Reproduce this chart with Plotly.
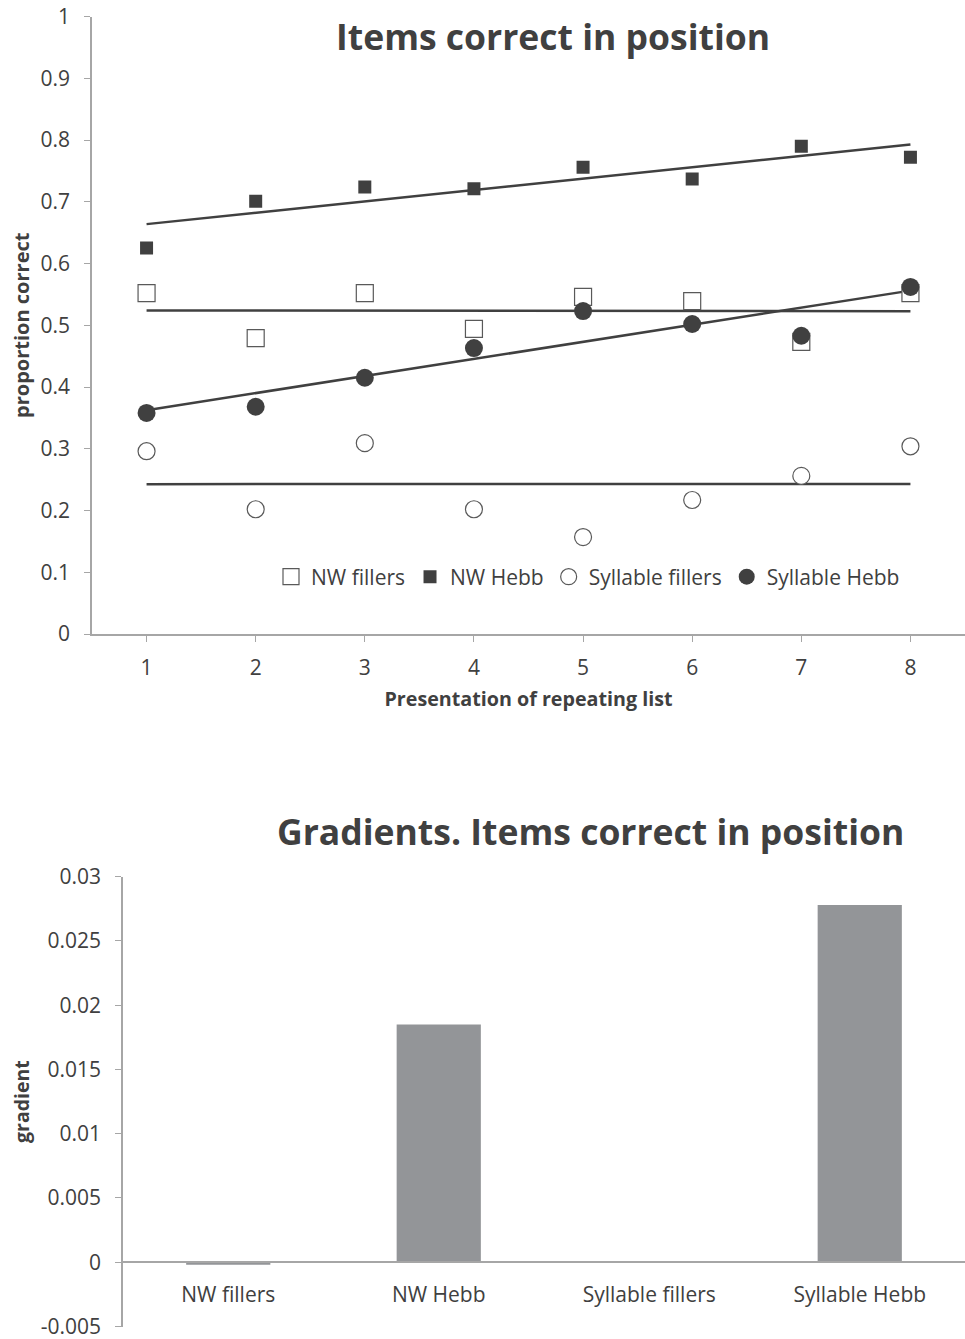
import numpy as np
import plotly.graph_objects as go

# ---------------- data ----------------
presentations = [1, 2, 3, 4, 5, 6, 7, 8]
nw_fillers = [0.552, 0.479, 0.552, 0.494, 0.546, 0.539, 0.473, 0.552]
nw_hebb = [0.625, 0.701, 0.724, 0.721, 0.756, 0.737, 0.790, 0.772]
syl_fillers = [0.296, 0.202, 0.309, 0.202, 0.157, 0.217, 0.256, 0.304]
syl_hebb = [0.358, 0.368, 0.415, 0.463, 0.523, 0.502, 0.483, 0.562]

gradient_categories = ["NW fillers", "NW Hebb", "Syllable fillers", "Syllable Hebb"]
gradient_values = [-0.0002, 0.0185, 0.0000, 0.0278]

top_yticks = [0, 0.1, 0.2, 0.3, 0.4, 0.5, 0.6, 0.7, 0.8, 0.9, 1]
top_yticklabels = ["0", "0.1", "0.2", "0.3", "0.4", "0.5", "0.6", "0.7", "0.8", "0.9", "1"]
bot_yticks = [-0.005, 0, 0.005, 0.01, 0.015, 0.02, 0.025, 0.03]
bot_yticklabels = ["-0.005", "0", "0.005", "0.01", "0.015", "0.02", "0.025", "0.03"]

# ---------------- style ----------------
W, H = 965, 1339
FONT = "Open Sans"
TXT = "#404040"
AX = "#a6a6a6"
DARK = "#404040"
BAR = "#939598"
TICK_SIZE = 21

top_dom_y = [1 - 634 / H, 1 - 16.5 / H]
top_dom_x = [92 / W, 1.0]
bot_dom_y = [1 - 1326.5 / H, 1 - 876.7 / H]
bot_dom_x = [123 / W, 1.0]
bot_range = [-0.005, 0.03]
zero_pos = bot_dom_y[0] + (0 - bot_range[0]) / (bot_range[1] - bot_range[0]) * (bot_dom_y[1] - bot_dom_y[0])

fig = go.Figure()

series = [
    ("NW fillers", nw_fillers, dict(symbol="square", size=17, color="white", line=dict(color="#595959", width=1.2))),
    ("NW Hebb", nw_hebb, dict(symbol="square", size=13, color=DARK, line=dict(color=DARK, width=0))),
    ("Syllable fillers", syl_fillers, dict(symbol="circle", size=17, color="white", line=dict(color="#595959", width=1.2))),
    ("Syllable Hebb", syl_hebb, dict(symbol="circle", size=18, color=DARK, line=dict(color=DARK, width=0))),
]

x_arr = np.array(presentations, dtype=float)
for name, vals, mk in series:
    slope, intercept = np.polyfit(x_arr, np.array(vals), 1)
    fig.add_trace(go.Scatter(
        x=[x_arr.min(), x_arr.max()],
        y=[intercept + slope * x_arr.min(), intercept + slope * x_arr.max()],
        mode="lines", line=dict(color=DARK, width=2.5),
        showlegend=False, hoverinfo="skip", xaxis="x", yaxis="y"))

for name, vals, mk in series:
    fig.add_trace(go.Scatter(
        x=presentations, y=vals, mode="markers", name=name,
        marker=mk, xaxis="x", yaxis="y"))

fig.add_trace(go.Bar(
    x=gradient_categories, y=gradient_values, marker=dict(color=BAR, line=dict(width=0)),
    showlegend=False, xaxis="x2", yaxis="y2"))

fig.update_layout(
    width=W, height=H,
    margin=dict(l=0, r=0, t=0, b=0, autoexpand=False),
    paper_bgcolor="white", plot_bgcolor="white",
    font=dict(family=FONT, color=TXT, size=TICK_SIZE),
    bargap=0.6,
    showlegend=True,
    legend=dict(orientation="h", x=271 / W, xanchor="left", y=1 - 577 / H, yanchor="middle",
                font=dict(size=21, color=TXT), bgcolor="rgba(0,0,0,0)", itemwidth=30,
                tracegroupgap=0, traceorder="normal"),
    xaxis=dict(domain=top_dom_x, anchor="y", range=[0.5, 8.5], tickvals=presentations,
               ticktext=[str(p) for p in presentations], automargin=False,
               showline=True, linecolor=AX, linewidth=1.5, ticks="outside", ticklen=6,
               tickcolor=AX, showgrid=False, zeroline=False, ticklabelstandoff=8,
               tickfont=dict(size=TICK_SIZE),
               title=dict(text="<b>Presentation of repeating list</b>", font=dict(size=19.7, color=TXT), standoff=12)),
    yaxis=dict(domain=top_dom_y, anchor="x", range=[0, 1], tickvals=top_yticks, ticktext=top_yticklabels,
               showline=True, linecolor=AX, linewidth=1.5, ticks="outside", ticklen=6, automargin=False,
               tickcolor=AX, showgrid=False, zeroline=False, ticklabelstandoff=10,
               tickfont=dict(size=TICK_SIZE), ticklabeloverflow="allow",
               title=dict(text="<b>proportion correct</b>", font=dict(size=20, color=TXT), standoff=6)),
    xaxis2=dict(domain=bot_dom_x, anchor="free", position=zero_pos, showline=True, linecolor=AX, linewidth=1.5,
                ticks="", showgrid=False, zeroline=False, ticklabelstandoff=14, automargin=False,
                tickfont=dict(size=TICK_SIZE)),
    yaxis2=dict(domain=bot_dom_y, anchor="x2", range=bot_range, tickvals=bot_yticks, ticktext=bot_yticklabels,
                showline=True, linecolor=AX, linewidth=1.5, ticks="outside", ticklen=6, automargin=False,
                tickcolor=AX, showgrid=False, zeroline=False, ticklabelstandoff=10,
                tickfont=dict(size=TICK_SIZE), ticklabeloverflow="allow",
                title=dict(text="<b>gradient</b>", font=dict(size=19.5, color=TXT), standoff=6)),
    annotations=[
        dict(text="<b>Items correct in position</b>", x=553 / W, y=1 - 36 / H, xref="paper", yref="paper",
             showarrow=False, font=dict(size=35.5, color=TXT, family=FONT), xanchor="center", yanchor="middle"),
        dict(text="<b>Gradients. Items correct in position</b>", x=590 / W, y=1 - 831 / H, xref="paper", yref="paper",
             showarrow=False, font=dict(size=35.5, color=TXT, family=FONT), xanchor="center", yanchor="middle"),
    ],
)

fig.write_html("out.html", config={"displayModeBar": False},
               post_script="document.body.style.margin='0';")
